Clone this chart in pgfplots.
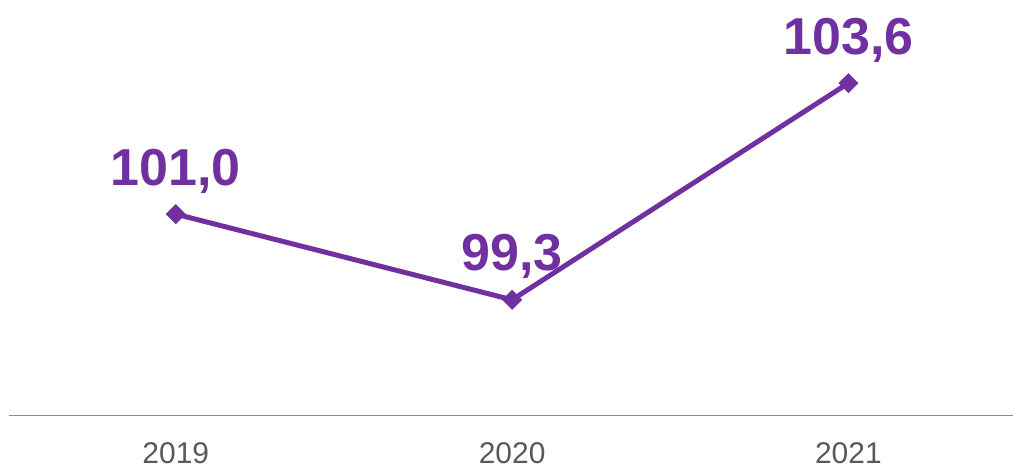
\documentclass[border=0pt]{standalone}
\usepackage{pgfplots}
\pgfplotsset{compat=1.18}
\usepackage{fontspec}
\setmainfont{Liberation Sans}

\definecolor{linepurple}{HTML}{7030A0}
\definecolor{axisgray}{HTML}{8C8C8C}
\definecolor{labelgray}{HTML}{595959}

\pgfplotstableread{
x y label
0 101.0 {101,0}
1 99.3 {99,3}
2 103.6 {103,6}
}\datatable

\begin{document}
\begin{tikzpicture}
	\begin{axis}[
			width=1005pt, height=416pt,
			scale only axis,
			xmin=-0.496, xmax=2.49,
			ymin=97, ymax=105.25,
			axis x line*=bottom,
			axis y line=none,
			x axis line style={draw=axisgray, line width=1.6pt, -},
			xtick={0,1,2},
			xticklabels={2019,2020,2021},
			major tick length=0pt,
			xticklabel style={font=\fontsize{30}{36}\selectfont, text=labelgray, inner sep=1pt, yshift=-26pt},
			ytick=\empty,
			clip=false,
			nodes near coords,
			point meta=explicit symbolic,
			nodes near coords style={font=\fontsize{52}{60}\selectfont\bfseries, text=linepurple, anchor=base, yshift=29pt},
		]
		\addplot[linepurple, line width=5pt, mark=square*,
			mark options={rotate=45, mark size=6.8pt, line width=0.5pt, fill=linepurple}]
			table[x=x, y=y, meta=label] {\datatable};
		% keep the page as large as the axis box plus the tick label band
		\path (rel axis cs:0,0) ++(-9pt,-53pt);
		\path (rel axis cs:1,1);
	\end{axis}
\end{tikzpicture}
\end{document}
